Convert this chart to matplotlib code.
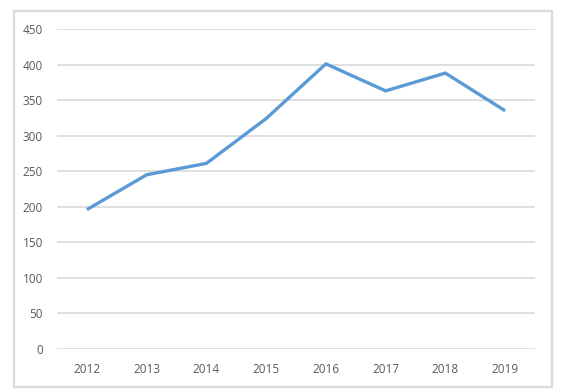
import matplotlib
matplotlib.use("Agg")
import matplotlib.pyplot as plt
from matplotlib.patches import Rectangle

years = ['2012', '2013', '2014', '2015', '2016', '2017', '2018', '2019']
values = [196, 245, 261, 324, 401, 363, 388, 335]
y_ticks = [0, 50, 100, 150, 200, 250, 300, 350, 400, 450]

W, H = 575, 391
fig = plt.figure(figsize=(W / 100, H / 100), dpi=100)
plt.rcParams['font.family'] = ['Open Sans', 'DejaVu Sans']

# chart border like an Excel chart area
fig.patches.append(Rectangle((14 / W, 1 - 387 / H), (552 - 14) / W, (387 - 11) / H,
                             transform=fig.transFigure, fill=False,
                             edgecolor='#d9d9d9', linewidth=1.6))

ax = fig.add_axes([57 / W, 1 - 349 / H, (535 - 57) / W, (349 - 29) / H])
ax.plot(range(len(years)), values, color='#5b9bd5', linewidth=2.4,
        solid_capstyle='butt', zorder=3)

ax.set_xlim(-0.5, len(years) - 0.5)
ax.set_ylim(0, 450)
ax.set_yticks(y_ticks)
ax.set_xticks(range(len(years)))
ax.set_xticklabels(years)
ax.grid(axis='y', color='#d9d9d9', linewidth=1.2)
ax.set_axisbelow(True)
for s in ax.spines.values():
    s.set_visible(False)
ax.tick_params(axis='both', length=0, labelsize=8.5, colors='#595959')
ax.tick_params(axis='y', pad=10)
ax.tick_params(axis='x', pad=10)

fig.savefig('out.png', dpi=100)
